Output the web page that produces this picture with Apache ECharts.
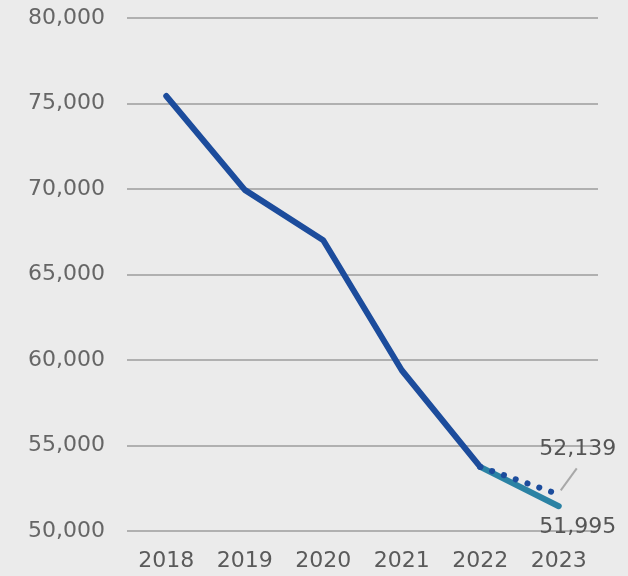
<!DOCTYPE html>
<html>
<head>
<meta charset="utf-8">
<script src="https://cdn.jsdelivr.net/npm/echarts@6/dist/echarts.min.js"></script>
<style>
html,body{margin:0;padding:0;background:#ebebeb;}
#c{width:628px;height:576px;}
</style>
</head>
<body>
<div id="c"></div>
<script>
const years = ['2018','2019','2020','2021','2022','2023'];
const mainValues = [75438, 69950, 67000, 59400, 53750, null];
const tealValues = [null, null, null, null, 53750, 51450];
const dottedValues = [null, null, null, null, 53750, 52139];
const tealLabel = '51,995';
const dottedLabel = '52,139';
const yTicks = {min: 50000, max: 80000, interval: 5000};

const chart = echarts.init(document.getElementById('c'));
const fontFam = '"DejaVu Sans", Verdana, sans-serif';
chart.setOption({
  backgroundColor: '#ebebeb',
  animation: false,
  grid: {left: 127, right: 30, top: 18, bottom: 45},
  xAxis: {
    type: 'category', data: years, boundaryGap: true,
    axisLine: {show: false}, axisTick: {show: false},
    axisLabel: {color: '#5a5a5a', fontSize: 22, fontFamily: fontFam, margin: 19}
  },
  yAxis: {
    type: 'value', min: yTicks.min, max: yTicks.max, interval: yTicks.interval,
    axisLine: {show: false}, axisTick: {show: false},
    axisLabel: {color: '#666', fontSize: 22, fontFamily: fontFam, margin: 22,
      formatter: v => v.toLocaleString('en-US')},
    splitLine: {lineStyle: {color: '#b0b0b0', width: 2}}
  },
  series: [
    {
      type: 'line', data: mainValues, symbol: 'none', z: 3,
      lineStyle: {color: '#1c4c9c', width: 6, cap: 'round', join: 'round'}
    },
    {
      type: 'line', data: tealValues, symbol: 'circle', symbolSize: 0.1, showAllSymbol: true, z: 2,
      itemStyle: {color: '#2b82a4'},
      lineStyle: {color: '#2b82a4', width: 6, cap: 'round', join: 'round'},
      label: {show: true, position: 'inside', offset: [19, 21],
        formatter: p => p.dataIndex === 5 ? tealLabel : '',
        color: '#555', fontSize: 22, fontFamily: fontFam}
    },
    {
      type: 'line', data: dottedValues, symbol: 'circle', symbolSize: 0.1, showAllSymbol: true, z: 4,
      itemStyle: {color: '#1c4c9c'},
      lineStyle: {color: '#1c4c9c', width: 6, type: [0.1, 12.4], cap: 'round'},
      label: {show: true, position: 'inside', offset: [19, -45],
        formatter: p => p.dataIndex === 5 ? dottedLabel : '',
        color: '#555', fontSize: 22, fontFamily: fontFam}
    }
  ]
});
const end = chart.convertToPixel({xAxisIndex: 0, yAxisIndex: 0}, ['2023', dottedValues[5]]);
chart.setOption({
  graphic: [{
    type: 'line', silent: true,
    shape: {x1: end[0] + 2, y1: end[1] - 4, x2: end[0] + 18, y2: end[1] - 26},
    style: {stroke: '#a8a8a8', lineWidth: 2}
  }]
});
</script>
</body>
</html>
